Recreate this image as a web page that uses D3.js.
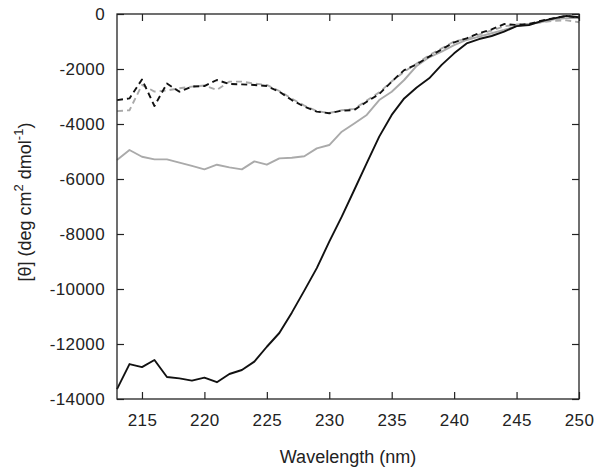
<!DOCTYPE html>
<html>
<head>
<meta charset="utf-8">
<script src="https://cdn.jsdelivr.net/npm/d3@7"></script>
<style>
  body { margin: 0; background: #fff; }
  svg text { font-family: "Liberation Sans", Arial, sans-serif; }
</style>
</head>
<body>
<div id="chart"></div>
<script>
// wavelengths, 1 nm steps
const wavelengths = d3.range(213, 251);

// black solid
const blackSolid = [-13640, -12730, -12840, -12580, -13200, -13250, -13330, -13225, -13390, -13090,
  -12945, -12640, -12100, -11600, -10860, -10060, -9240, -8280, -7370, -6400,
  -5420, -4460, -3670, -3070, -2670, -2340, -1850, -1430, -1070, -910,
  -800, -640, -440, -400, -260, -160, -70, -120];

// gray solid
const graySolid = [-5310, -4945, -5190, -5285, -5285, -5405, -5525, -5650, -5480, -5575,
  -5650, -5360, -5480, -5250, -5225, -5175, -4885, -4765, -4280, -3980,
  -3670, -3130, -2825, -2400, -1890, -1575, -1370, -1130, -945, -825,
  -700, -580, -440, -365, -290, -190, -150, -150];

// black dashed
const blackDashed = [-3130, -3070, -2380, -3345, -2530, -2825, -2640, -2620, -2400, -2545,
  -2560, -2580, -2620, -2825, -3130, -3370, -3550, -3610, -3515, -3490,
  -3190, -2910, -2460, -2040, -1830, -1550, -1285, -1030, -885, -700,
  -560, -365, -400, -365, -240, -150, -70, -140];

// gray dashed
const grayDashed = [-3530, -3500, -2580, -2820, -2780, -2700, -2640, -2600, -2760, -2460,
  -2460, -2530, -2580, -2800, -3080, -3330, -3530, -3600, -3500, -3450,
  -3150, -2850, -2450, -2100, -1800, -1500, -1250, -1000, -900, -750,
  -600, -450, -380, -350, -300, -250, -230, -300];

const xTicks = [215, 220, 225, 230, 235, 240, 245, 250];
const yTicks = [0, -2000, -4000, -6000, -8000, -10000, -12000, -14000];

const series = [
  { values: graySolid, color: "#aaaaaa", dash: null },
  { values: grayDashed, color: "#aaaaaa", dash: "6,4" },
  { values: blackDashed, color: "#111111", dash: "6,4" },
  { values: blackSolid, color: "#111111", dash: null }
];

const margin = { top: 14, right: 22, bottom: 75, left: 117 };
const width = 601 - margin.left - margin.right;
const height = 474 - margin.top - margin.bottom;

const svg = d3.select("#chart").append("svg")
  .attr("width", 601)
  .attr("height", 474)
  .append("g")
  .attr("transform", `translate(${margin.left}, ${margin.top})`);

const x = d3.scaleLinear().domain([213, 250]).range([0, width]);
const y = d3.scaleLinear().domain([-14000, 0]).range([height, 0]);

// lines
const line = d3.line()
  .x((d, i) => x(wavelengths[i]))
  .y(d => y(d));

series.forEach(s => {
  svg.append("path")
    .datum(s.values)
    .attr("fill", "none")
    .attr("stroke", s.color)
    .attr("stroke-width", 1.9)
    .attr("stroke-dasharray", s.dash)
    .attr("stroke-linejoin", "round")
    .attr("d", line);
});

// axes with inward ticks
const styleAxis = g => {
  g.select(".domain").remove();
  g.selectAll(".tick line").attr("stroke", "#222").attr("stroke-width", 1.2);
  g.selectAll("text").attr("fill", "#222").style("font-size", "17px").style("letter-spacing", "0.4px");
};

svg.append("g")
  .attr("transform", `translate(0,${height})`)
  .call(d3.axisBottom(x).tickValues(xTicks).tickSize(-7).tickPadding(15).tickFormat(d3.format("d")))
  .call(styleAxis);

svg.append("g")
  .call(d3.axisTop(x).tickValues(xTicks).tickSize(-7).tickFormat(""))
  .call(styleAxis);

svg.append("g")
  .call(d3.axisLeft(y).tickValues(yTicks).tickSize(-7).tickPadding(12).tickFormat(d => d))
  .call(styleAxis);

svg.append("g")
  .attr("transform", `translate(${width},0)`)
  .call(d3.axisRight(y).tickValues(yTicks).tickSize(-7).tickFormat(""))
  .call(styleAxis);

// frame
svg.append("rect")
  .attr("width", width)
  .attr("height", height)
  .attr("fill", "none")
  .attr("stroke", "#222")
  .attr("stroke-width", 1.3);

// axis titles
svg.append("text")
  .attr("x", width / 2)
  .attr("y", height + 64)
  .attr("text-anchor", "middle")
  .style("font-size", "18px")
  .attr("fill", "#222")
  .text("Wavelength (nm)");

const yt = svg.append("text")
  .attr("transform", `translate(${-86},${188}) rotate(-90)`)
  .attr("text-anchor", "middle")
  .style("font-size", "18px")
  .attr("fill", "#222");
yt.append("tspan").text("[θ] (deg cm");
yt.append("tspan").attr("dy", -8).style("font-size", "13px").text("2");
yt.append("tspan").attr("dy", 8).text(" dmol");
yt.append("tspan").attr("dy", -8).style("font-size", "13px").text("-1");
yt.append("tspan").attr("dy", 8).text(")");
</script>
</body>
</html>
